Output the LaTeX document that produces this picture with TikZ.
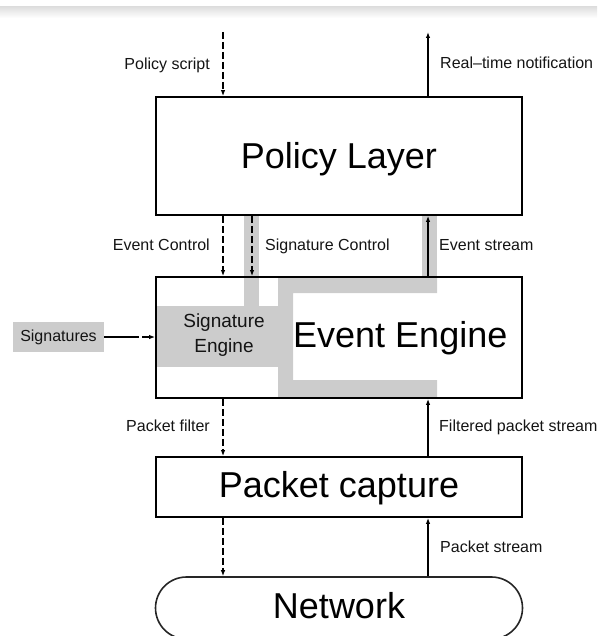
\documentclass[tikz,border=0pt]{standalone}
\usepackage{fontspec}
\setmainfont{Liberation Sans}
\usetikzlibrary{arrows.meta,shapes.misc}
\begin{document}
\begin{tikzpicture}[x=1pt,y=-1pt,
  box/.style={draw=black, line width=1.8pt, rectangle, inner sep=0pt, minimum width=366pt},
  big/.style={font=\fontsize{36}{40}\selectfont, inner sep=0pt, anchor=base},
  lbl/.style={font=\fontsize{16}{19}\selectfont, text=black!92, inner sep=0pt},
  flow/.style={line width=1.4pt, -{Latex[length=6pt,width=4.5pt]}},
  ctrl/.style={flow, dash pattern=on 7pt off 3pt},
  band/.style={fill=gray!40, draw=none}]
\useasboundingbox (0,0) rectangle (597,636);
\clip (0,0) rectangle (597,636);
% top grey fade
\shade[top color=gray!25, bottom color=white] (0,7) rectangle (597,18);
% grey flow bands
\fill[band] (244,215) rectangle (259,306);
\fill[band] (156,306) rectangle (278,367);
\fill[band] (278,277) -- (437,277) -- (437,293) -- (293,293) -- (293,380) -- (437,380) -- (437,397.5) -- (278,397.5) -- cycle;
\fill[band] (422,215) rectangle (437,277);
% boxes
\node[box, minimum height=118pt] (policy) at (339,156) {};
\node[box, minimum height=121pt] (engine) at (339,337.5) {};
\node[box, minimum height=60pt] (capture) at (339,487) {};
\node[draw=black!85, line width=1.6pt, rounded rectangle, minimum width=367pt, minimum height=62pt, inner sep=0pt] (network) at (339,608) {};
% box texts
\node[big] (tpolicy) at (339,169) {Policy Layer};
\node[big, anchor=base west] (tengine) at (293,347) {Event Engine};
\node[big] (tcapture) at (339,497) {Packet capture};
\node[big] (tnetwork) at (339,618) {Network};
\node[font=\fontsize{19}{25}\selectfont, text=black!92, align=center, inner sep=0pt, anchor=north] (tsig) at (224,313.5) {Signature\\Engine};
% labels
\node[lbl, anchor=base east] (lscript) at (210,70) {Policy script};
\node[lbl, anchor=base west] (lnotif) at (440,69) {Real--time notification};
\node[lbl, anchor=base east] (levctl) at (210,250) {Event Control};
\node[lbl, anchor=base west] (lsigctl) at (265,250) {Signature Control};
\node[lbl, anchor=base west] (levstr) at (439,250) {Event stream};
\node[lbl, anchor=base east] (lpfilter) at (210,431) {Packet filter};
\node[lbl, anchor=base west] (lfiltered) at (439,431) {Filtered packet stream};
\node[lbl, anchor=base west] (lpstream) at (440,552) {Packet stream};
\node[lbl, fill=gray!40, minimum width=91pt, minimum height=30pt] (sigs) at (58.5,337) {Signatures};
% connector columns
\coordinate (xL) at (223,0);
\coordinate (xS) at (252,0);
\coordinate (xR) at (428,0);
\coordinate (scriptsrc) at (223,32);
\coordinate (notifdst) at (428,32);
% connectors
\draw[ctrl] (scriptsrc) -- (scriptsrc |- policy.north);
\draw[flow] (notifdst |- policy.north) -- (notifdst);
\draw[ctrl] (xL |- policy.south) -- (xL |- engine.north);
\draw[ctrl] (xS |- policy.south) -- (xS |- engine.north);
\draw[flow] (xR |- engine.north) -- (xR |- policy.south);
\draw[flow, dash pattern=on 35pt off 3pt on 7pt off 3pt] (sigs.east) -- (sigs.east -| engine.west);
\draw[ctrl] (xL |- engine.south) -- (xL |- capture.north);
\draw[flow] (xR |- capture.north) -- (xR |- engine.south);
\draw[ctrl] (xL |- capture.south) -- (xL |- network.north);
\draw[flow] (xR |- network.north) -- (xR |- capture.south);
\end{tikzpicture}
\end{document}
